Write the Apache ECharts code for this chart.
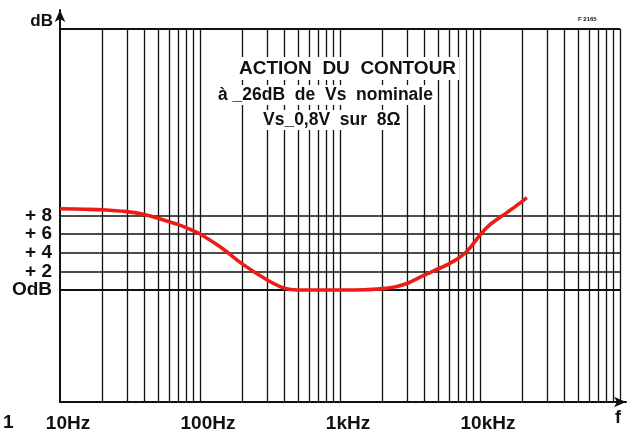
<!DOCTYPE html>
<html>
<head>
<meta charset="utf-8">
<script src="https://cdn.jsdelivr.net/npm/echarts@6/dist/echarts.min.js"></script>
<style>
  html, body { margin: 0; padding: 0; background: #fff; }
  #chart { width: 634px; height: 433px; }
</style>
</head>
<body>
<div id="chart"></div>
<script>
// Contour response: frequency (Hz) and relative gain (dB)
const freqs = [10, 15, 20, 30, 40, 55, 70, 85, 100, 140, 200, 300, 400, 500, 700, 1000, 1500, 2000, 2500, 3000, 4000, 5000, 6000, 7000, 8000, 9000, 10000, 12000, 14600, 17000, 20000, 21600];
const gains = [8.7, 8.65, 8.6, 8.4, 8.1, 7.5, 7.0, 6.5, 6.0, 4.6, 2.8, 1.1, 0.2, 0.0, 0.0, 0.0, 0.02, 0.15, 0.35, 0.7, 1.6, 2.25, 2.8, 3.4, 4.1, 5.0, 5.9, 7.1, 8.0, 8.7, 9.5, 9.9];

// Axis labels
const decadeLabels = { 10: '10Hz', 100: '100Hz', 1000: '1kHz', 10000: '10kHz' };
const levelLabels = { 0: 'OdB', 2: '+ 2', 4: '+ 4', 6: '+ 6', 8: '+ 8' };
const gridLevels = [0, 2, 4, 6, 8];

// Frame extents
const fMin = 10, fMax = 100000;
const dbMin = -12, dbTop = 28;

const titleLines = [
  { text: 'ACTION  DU  CONTOUR', size: 19 },
  { text: 'à _26dB  de  Vs  nominale', size: 17.5 },
  { text: 'Vs_0,8V  sur  8Ω', size: 17.5 }
];

const FONT = '"Liberation Sans", Arial, sans-serif';
const INK = '#111';
const RED = '#ee1c16';

// log-paper vertical rulings
const vLines = [];
for (let d = 10; d < fMax; d *= 10) {
  for (let k = 1; k <= 9; k++) {
    const f = d * k;
    if (f === fMin) continue;
    vLines.push(f);
  }
}
vLines.push(fMax);

const gridMarks = [];
vLines.forEach(f => {
  gridMarks.push([{ coord: [f, dbMin], lineStyle: { width: 1.3 } }, { coord: [f, dbTop] }]);
});
gridLevels.forEach(v => {
  gridMarks.push([{ coord: [fMin, v], lineStyle: { width: v === 0 ? 2.2 : 1.5 } }, { coord: [fMax, v] }]);
});
gridMarks.push([{ coord: [fMin, dbTop], lineStyle: { width: 1.8 } }, { coord: [fMax, dbTop] }]);

const chart = echarts.init(document.getElementById('chart'), null, { renderer: 'canvas' });

chart.setOption({
  animation: false,
  backgroundColor: '#fff',
  grid: { left: 60, right: 8, top: 10, bottom: 31 },
  xAxis: {
    type: 'log',
    logBase: 10,
    min: fMin,
    max: Math.pow(10, 5 + 6 / 140),
    axisLine: { show: true, onZero: false, symbol: ['none', 'arrow'], symbolSize: [8, 12], lineStyle: { color: INK, width: 2 } },
    axisTick: { show: false },
    splitLine: { show: false },
    minorTick: { show: false },
    axisLabel: {
      margin: 12,
      fontFamily: FONT, fontWeight: 'bold', fontSize: 19, color: INK,
      padding: [0, 0, 0, 16],
      showMaxLabel: false,
      formatter: v => decadeLabels[Math.round(v)] || ''
    }
  },
  yAxis: {
    type: 'value',
    min: dbMin,
    max: 30,
    interval: 2,
    name: 'dB',
    nameLocation: 'end',
    nameGap: -11,
    nameTextStyle: { fontFamily: FONT, fontWeight: 'bold', fontSize: 17, color: INK, align: 'right', verticalAlign: 'middle', padding: [0, 7, 0, 0] },
    axisLine: { show: true, onZero: false, symbol: ['none', 'arrow'], symbolSize: [8, 12], lineStyle: { color: INK, width: 2 } },
    axisTick: { show: false },
    splitLine: { show: false },
    axisLabel: {
      margin: 8,
      fontFamily: FONT, fontWeight: 'bold', fontSize: 19, color: INK,
      formatter: v => (levelLabels[Math.round(v)] !== undefined ? levelLabels[Math.round(v)] : '')
    }
  },
  series: [
    {
      type: 'line',
      data: [],
      silent: true,
      markLine: {
        silent: true,
        symbol: ['none', 'none'],
        label: { show: false },
        lineStyle: { color: INK, type: 'solid', width: 1.3 },
        data: gridMarks
      },
      z: 1
    },
    {
      type: 'line',
      data: freqs.map((f, i) => [f, gains[i]]),
      smooth: 0.3,
      showSymbol: false,
      lineStyle: { color: RED, width: 3.6 },
      z: 10
    }
  ],
  graphic: [
    { type: 'text', left: 236, top: 57, z: 100, style: { text: titleLines[0].text, font: 'bold ' + titleLines[0].size + 'px ' + FONT, fill: INK, backgroundColor: '#fff', padding: [2, 3] } },
    { type: 'text', left: 215, top: 85, z: 100, style: { text: titleLines[1].text, font: 'bold ' + titleLines[1].size + 'px ' + FONT, fill: INK, backgroundColor: '#fff', padding: [1, 3] } },
    { type: 'text', left: 260, top: 110, z: 100, style: { text: titleLines[2].text, font: 'bold ' + titleLines[2].size + 'px ' + FONT, fill: INK, backgroundColor: '#fff', padding: [1, 3] } },
    { type: 'text', left: 578, top: 16, z: 100, style: { text: 'F 2165', font: 'bold 6px ' + FONT, fill: INK } },
    { type: 'text', left: 615, top: 409, z: 100, style: { text: 'f', font: 'bold 18px ' + FONT, fill: INK } },
    { type: 'text', left: 3, top: 413, z: 100, style: { text: '1', font: 'bold 19px ' + FONT, fill: INK } }
  ]
});
</script>
</body>
</html>
